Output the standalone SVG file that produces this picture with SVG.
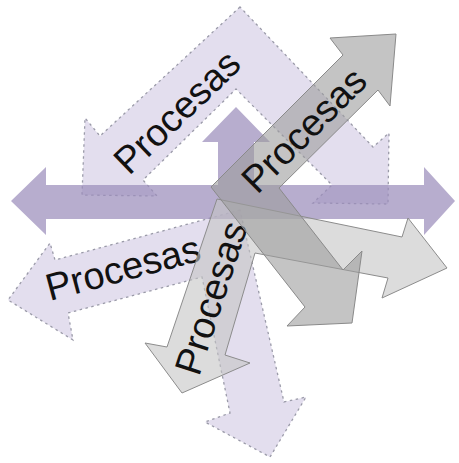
<svg xmlns="http://www.w3.org/2000/svg" width="459" height="463" viewBox="0 0 459 463">
<style>
.lp{fill:#e3deee;stroke:#9a9aa8;stroke-width:1.3;stroke-dasharray:2.5 3.5}
.pu{fill:#9b8dbb;fill-opacity:0.72;stroke:none}
.lg{fill:#c4c4c4;fill-opacity:0.6;stroke:#8c8c8c;stroke-width:1}
.dg{fill:#9c9c9c;fill-opacity:0.6;stroke:#8a8a8a;stroke-width:1}
.t{font-family:"Liberation Sans",Arial,sans-serif;font-size:38px;fill:#111;text-anchor:middle}
</style>
<rect width="459" height="463" fill="#ffffff"/>
<g id="connectors"/>
<g id="top-v">
<polygon class="lp" points="240,7 100,136 85,118 82,195 157,196 143,180 236,89 332,185 313,203 388,204 389,133 373,147"/>
<text class="t" transform="translate(177,112) rotate(-44)" y="13">Procesas</text>
</g>
<g id="bottom-v">
<polygon class="lp" points="240,210 55,260 50,243 8,300 73,340 68,313 202,277 230,413 205,422 270,457 306,397 284,402"/>
<text class="t" transform="translate(123,268) rotate(-15)" y="13">Procesas</text>
</g>
<g id="cross-arrow">
<polygon class="pu" points="11,201 46,167 46,185 218,185 218,142 202,142 236,107 270,142 254,142 254,185 424,185 424,167 455,201 424,235 424,219 46,219 46,235"/>
</g>
<g id="light-gray-v">
<polygon class="lg" points="217,199 402,237 408,218 447,268 382,298 388,278 255,253 225,355 250,363 182,393 145,343 167,347"/>
<text class="t" transform="translate(211,298) rotate(-72)" y="13">Procesas</text>
</g>
<g id="dark-gray-v">
<polygon class="dg" points="211,187 343,55 330,38 396,34 390,106 378,90 279,188 343,270 362,251 352,323 287,326 305,307"/>
<text class="t" transform="translate(304,130) rotate(-45)" y="13">Procesas</text>
</g>
</svg>
